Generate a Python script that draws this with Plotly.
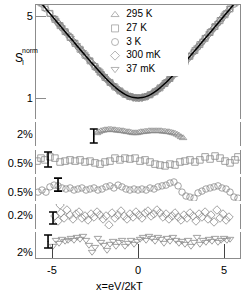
import numpy as np
import plotly.graph_objects as go

# ---------------- data ----------------
labels = ["295 K", "27 K", "3 K", "300 mK", "37 mK"]
symbols = ["triangle-up-open", "square-open", "circle-open", "diamond-open", "triangle-down-open"]
scale_text = ["2%", "0.5%", "0.5%", "0.2%", "2%"]

# theory curve S = x coth x
theory_x = [-5.93, -5.5, -5.0, -4.5, -4.0, -3.5, -3.0, -2.5, -2.0, -1.75, -1.5, -1.25, -1.0, -0.75, -0.5, -0.25, 0.0,
            0.25, 0.5, 0.75, 1.0, 1.25, 1.5, 1.75, 2.0, 2.5, 3.0, 3.5, 4.0, 4.5, 5.0, 5.5, 5.93]
theory_y = [5.93, 5.5, 5.0, 4.5, 4.003, 3.506, 3.015, 2.534, 2.075, 1.859, 1.657, 1.474, 1.313, 1.181, 1.082, 1.021, 1.0,
            1.021, 1.082, 1.181, 1.313, 1.474, 1.657, 1.859, 2.075, 2.534, 3.015, 3.506, 4.003, 4.5, 5.0, 5.5, 5.93]

# 295 K : relative deviation in %
x_295 = [-2.38, -2.27, -2.15, -2.03, -1.92, -1.80, -1.69, -1.57, -1.45, -1.34, -1.22, -1.10, -0.99, -0.87, -0.76,
         -0.64, -0.52, -0.41, -0.29, -0.17, -0.06, 0.06, 0.17, 0.29, 0.41, 0.52, 0.64, 0.76, 0.87, 0.99, 1.10, 1.22,
         1.34, 1.45, 1.57, 1.69, 1.80, 1.92, 2.03, 2.15, 2.27, 2.38, 2.50, 2.62]
r_295 = [0.14, 0.29, 0.43, 0.50, 0.57, 0.57, 0.64, 0.64, 0.57, 0.57, 0.50, 0.50, 0.43, 0.43, 0.36, 0.29, 0.29, 0.21,
         0.14, 0.14, 0.14, 0.21, 0.29, 0.29, 0.36, 0.36, 0.43, 0.43, 0.43, 0.43, 0.43, 0.43, 0.43, 0.36, 0.36, 0.29,
         0.29, 0.21, 0.14, 0.07, -0.07, -0.21, -0.43, -0.57]

# 27 K
x_27 = [-5.87, -5.64, -5.41, -5.12, -4.83, -4.53, -4.24, -3.95, -3.66, -3.37, -3.08, -2.79, -2.50, -2.21, -1.92,
        -1.63, -1.34, -1.05, -0.76, -0.47, -0.17, 0.12, 0.41, 0.70, 0.99, 1.28, 1.57, 1.86, 2.15, 2.44, 2.73, 3.02,
        3.31, 3.60, 3.90, 4.19, 4.48, 4.77, 5.06, 5.35, 5.64, 5.81]
r_27 = [0.03, 0.13, 0.07, 0.17, 0.13, 0.00, 0.03, 0.07, 0.03, 0.07, 0.00, 0.03, -0.03, -0.07, 0.00, 0.03, 0.13,
        0.07, 0.13, 0.10, 0.13, 0.03, 0.07, 0.00, -0.07, -0.10, -0.13, -0.07, -0.10, 0.00, 0.03, 0.07, 0.00, 0.07,
        0.17, 0.10, 0.20, 0.13, 0.03, -0.03, 0.07, 0.17]

# 3 K
x_3 = [-5.81, -5.58, -5.35, -5.12, -4.88, -4.65, -4.42, -4.19, -3.95, -3.72, -3.49, -3.26, -3.02, -2.79, -2.56,
       -2.33, -2.09, -1.86, -1.63, -1.40, -1.16, -0.93, -0.70, -0.47, -0.23, 0.00, 0.23, 0.47, 0.70, 0.93, 1.16,
       1.40, 1.63, 1.86, 2.09, 2.33, 2.56, 2.79, 3.02, 3.26, 3.49, 3.72, 3.95, 4.19, 4.42, 4.65, 4.88, 5.12, 5.35,
       5.58, 5.81]
r_3 = [-0.12, -0.04, -0.12, 0.08, 0.15, 0.12, 0.04, 0.00, 0.04, -0.04, 0.00, 0.04, -0.04, 0.00, 0.04, -0.04, 0.00,
       0.08, 0.12, 0.04, 0.15, 0.08, 0.00, -0.04, 0.00, -0.04, 0.00, -0.04, 0.04, 0.00, 0.08, 0.12, 0.15, 0.23,
       0.27, 0.12, -0.12, -0.27, -0.31, -0.35, -0.15, -0.08, 0.00, 0.04, 0.08, 0.12, 0.04, 0.00, -0.12, -0.31, -0.35]

# 300 mK
x_300m = [-4.83, -4.65, -4.48, -4.30, -4.13, -3.95, -3.78, -3.60, -3.43, -3.26, -3.08, -2.91, -2.73, -2.56, -2.38,
          -2.21, -2.03, -1.86, -1.69, -1.51, -1.34, -1.16, -0.99, -0.81, -0.64, -0.47, -0.29, -0.12, 0.06, 0.23,
          0.41, 0.58, 0.76, 0.93, 1.10, 1.28, 1.45, 1.63, 1.80, 1.98, 2.15, 2.33, 2.50, 2.67, 2.85, 3.02, 3.20,
          3.37, 3.55, 3.72, 3.90, 4.07, 4.24, 4.42, 4.59, 4.77, 4.94, 5.12, 5.29, -4.53]
r_300m = [0.017, -0.067, 0.067, -0.017, 0.117, 0.033, -0.033, 0.05, 0.083, -0.017, 0.017, -0.05, 0.05, 0.0, 0.083,
          0.033, -0.033, 0.017, -0.133, 0.067, -0.017, 0.033, 0.1, 0.017, -0.033, 0.05, 0.0, 0.083, 0.033, -0.017,
          0.067, 0.1, 0.017, 0.05, 0.117, 0.067, 0.0, 0.05, -0.033, 0.017, 0.067, 0.0, -0.05, 0.033, -0.017, 0.067,
          0.017, -0.067, 0.05, 0.0, 0.083, -0.033, 0.033, -0.083, 0.117, -0.017, 0.05, -0.05, 0.0, 0.2]

# 37 mK
x_37m = [-4.94, -4.77, -4.59, -4.42, -4.24, -4.07, -3.90, -3.72, -3.55, -3.37, -3.20, -3.02, -2.85, -2.67, -2.50,
         -2.33, -2.15, -1.98, -1.80, -1.63, -1.45, -1.28, -1.10, -0.93, -0.76, -0.58, -0.41, -0.23, -0.06, 0.12,
         0.29, 0.47, 0.64, 0.81, 0.99, 1.16, 1.34, 1.51, 1.69, 1.86, 2.03, 2.21, 2.38, 2.56, 2.73, 2.91, 3.08,
         3.26, 3.43, 3.60, 3.78, 3.95, 4.13, 4.30, 4.48, 4.65, 4.83, 5.00, 5.17, 5.35]
r_37m = [-0.46, 0.46, 0.0, 0.62, 0.31, 0.46, 0.77, 0.46, 0.92, 0.62, 1.08, 0.46, -0.31, -1.38, -0.62, 0.77, 0.15,
         -0.31, -1.08, -0.15, 0.31, -0.46, 0.15, 0.46, -0.46, 0.0, 0.46, -0.15, 0.31, 0.62, 0.92, 0.46, 1.08, 0.77,
         0.31, 0.92, 0.62, 0.0, 0.77, 0.31, 0.92, 0.46, 0.0, 0.31, -0.15, 0.46, -0.46, 0.15, 0.92, -0.15, 0.46, 0.15,
         0.62, 0.31, 0.77, 0.15, 0.46, 0.77, 0.46, 0.62]

# scale bars (position and full length in %) for each residual panel
bar_x = [-2.57, -5.23, -4.65, -4.94, -5.23]
bar_y = [-0.29, 0.083, 0.17, -0.017, 0.23]
bar_len = [2.0, 0.5, 0.5, 0.2, 2.0]
label_pos = [0.0, -0.033, -0.115, 0.033, -1.38]

series_x = [x_295, x_27, x_3, x_300m, x_37m]
series_r = [r_295, r_27, r_3, r_300m, r_37m]

# ---------------- figure ----------------
W, H = 249, 292
ML, MR, MT, MB = 36, 9, 5, 34
PW, PH = W - ML - MR, H - MT - MB

def px_to_paper_x(px):
    return (px - ML) / PW

def px_to_paper_y(py):
    return (H - MB - py) / PH

GRAY = "#8a8a8a"
AX = "#8c8c8c"
FONT = "Liberation Sans, Arial, Helvetica, sans-serif"

def model(x):
    x = np.asarray(x, dtype=float)
    out = np.ones_like(x)
    nz = x != 0
    out[nz] = x[nz] / np.tanh(x[nz])
    return out

fig = go.Figure()

# panel domains (top px, bottom px)
panels_px = [(5, 118.5), (122, 146), (150, 174), (177, 201), (204, 229), (232, 258)]
ranges = [[0, 5.54], [-1.714, 1.714], [-0.4, 0.4], [-0.4615, 0.4615], [-0.2, 0.2167], [-2.308, 1.692]]
xrange_ = [-5.93, 5.93]

# top panel: data points then theory line
for i in range(5):
    xs = np.asarray(series_x[i], float)
    ys = model(xs) * (1 + np.asarray(series_r[i], float) / 100.0)
    fig.add_trace(go.Scatter(x=xs, y=ys, mode="markers", xaxis="x", yaxis="y",
                             marker=dict(symbol=symbols[i], size=6, color=GRAY, line=dict(width=0.8)),
                             showlegend=False, hoverinfo="skip"))
fig.add_trace(go.Scatter(x=theory_x, y=theory_y, mode="lines", xaxis="x", yaxis="y",
                         line=dict(color="black", width=1.5, shape="spline", smoothing=0.6),
                         showlegend=False, hoverinfo="skip"))

# residual panels
for i in range(5):
    ax = str(i + 2)
    fig.add_trace(go.Scatter(x=series_x[i], y=series_r[i], mode="markers", xaxis="x" + ax, yaxis="y" + ax,
                             marker=dict(symbol=symbols[i], size=6.5, color=GRAY, line=dict(width=0.8)),
                             showlegend=False, hoverinfo="skip"))
    fig.add_trace(go.Scatter(x=[bar_x[i]], y=[bar_y[i]], mode="markers", xaxis="x" + ax, yaxis="y" + ax,
                             marker=dict(size=1, color="black"),
                             error_y=dict(type="data", array=[bar_len[i] / 2], visible=True,
                                          color="black", thickness=1.6, width=4),
                             showlegend=False, hoverinfo="skip"))

# legend built on its own small axis (row index -> vertical position)
rows = list(range(len(labels)))
for i in range(5):
    fig.add_trace(go.Scatter(x=[0], y=[rows[i]], mode="markers", xaxis="x7", yaxis="y7",
                             marker=dict(symbol=symbols[i], size=7, color="#a0a0a0", line=dict(width=0.8)),
                             showlegend=False, hoverinfo="skip"))
fig.add_trace(go.Scatter(x=[0.75] * 5, y=rows, mode="text", text=labels, textposition="middle right",
                         textfont=dict(size=10, color="black", family=FONT), xaxis="x7", yaxis="y7",
                         showlegend=False, hoverinfo="skip"))

layout = dict(width=W, height=H, margin=dict(l=ML, r=MR, t=MT, b=MB),
              paper_bgcolor="white", plot_bgcolor="white", showlegend=False,
              font=dict(family=FONT, size=11, color="black"))

for i, (top, bot) in enumerate(panels_px):
    k = "" if i == 0 else str(i + 1)
    dom = [px_to_paper_y(bot), px_to_paper_y(top)]
    xa = dict(domain=[0, 1], range=xrange_, showgrid=False, zeroline=False, anchor="y" + k,
              showticklabels=False, ticks="", showline=False)
    if i > 0:
        xa["matches"] = "x"
    if i == 0:
        xa.update(side="top", showline=True, linecolor=AX, linewidth=1)
    if i == 5:
        xa.update(showline=True, linecolor=AX, linewidth=1, ticks="inside", ticklen=14, tickcolor="#444",
                  tickwidth=1, tickvals=[-5, 0, 5], ticktext=["-5", "0", "5"], showticklabels=True,
                  tickfont=dict(size=11), ticklabelstandoff=2)
    ya = dict(domain=dom, range=ranges[i], showgrid=False, zeroline=False, anchor="x" + k,
              showline=True, mirror=True, linecolor=AX, linewidth=1)
    if i == 0:
        ya.update(tickvals=[1, 5], ticktext=["1", "5"], ticks="inside", ticklen=10, tickcolor=AX,
                  tickwidth=1, tickfont=dict(size=11))
    else:
        ya.update(tickvals=[label_pos[i - 1]], ticktext=[scale_text[i - 1]], ticks="", tickfont=dict(size=11))
    layout["xaxis" + k] = xa
    layout["yaxis" + k] = ya

# legend axis: marker column at 115 px, rows from 15 px downward
layout["xaxis7"] = dict(domain=[px_to_paper_x(108), px_to_paper_x(188)], range=[-0.47, 4.87], visible=False,
                        anchor="y7")
layout["yaxis7"] = dict(domain=[px_to_paper_y(76), px_to_paper_y(8)], range=[4.5, -0.5], visible=False,
                        anchor="x7")

ann = [
    dict(text="S", x=px_to_paper_x(19), y=px_to_paper_y(58), font=dict(size=12)),
    dict(text="norm", x=px_to_paper_x(29.5), y=px_to_paper_y(51), font=dict(size=7)),
    dict(text="I", x=px_to_paper_x(23), y=px_to_paper_y(62.5), font=dict(size=7)),
    dict(text="x=eV/2kT", x=px_to_paper_x(119), y=px_to_paper_y(286), font=dict(size=11)),
]
for a in ann:
    a.update(xref="paper", yref="paper", showarrow=False, xanchor="center", yanchor="middle")
layout["annotations"] = ann

fig.update_layout(**layout)
fig.write_html("out.html", config={"displayModeBar": False},
               post_script="document.body.style.margin='0';document.body.style.padding='0';")
